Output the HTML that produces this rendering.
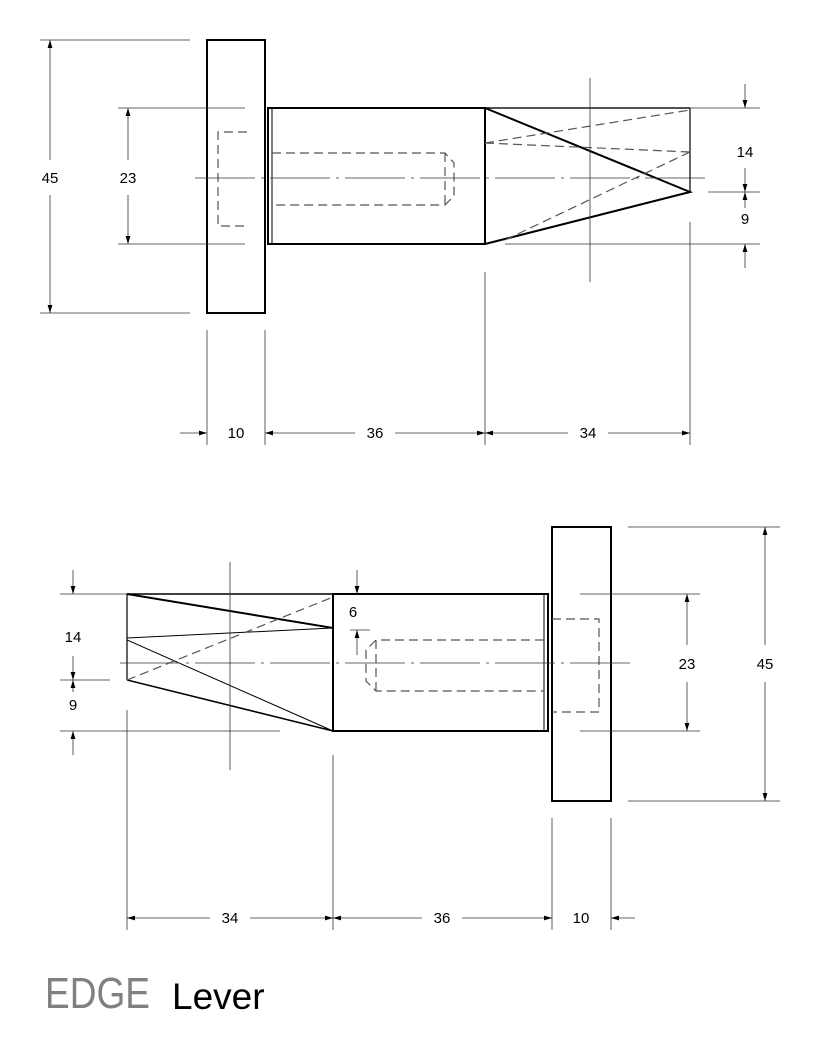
<!DOCTYPE html>
<html><head><style>body{margin:0;background:#fff}svg{display:block}</style></head>
<body>
<svg width="818" height="1037" viewBox="0 0 818 1037" xmlns="http://www.w3.org/2000/svg" font-family="Liberation Sans, sans-serif">
<defs>
<marker id="a" viewBox="0 0 10 10" refX="10" refY="5" markerWidth="8" markerHeight="8" orient="auto-start-reverse" markerUnits="userSpaceOnUse"><path d="M0,2 L10,5 L0,8z" fill="#000"/></marker>
</defs>
<g fill="none" stroke="#000">
<!-- TOP VIEW -->
<rect x="207" y="40" width="58" height="273" stroke-width="2"/>
<rect x="268" y="108" width="217" height="136" stroke-width="2"/>
<line x1="272" y1="108" x2="272" y2="244" stroke-width="1"/>
<line x1="485" y1="108" x2="690" y2="108" stroke-width="1.5"/>
<line x1="690" y1="108" x2="690" y2="192" stroke-width="1.2"/>
<path d="M485,108 L690,192 L485,244" stroke-width="2"/>
<g stroke="#555" stroke-dasharray="9,5" stroke-width="1.2">
<path d="M247,132 H218 V226 H247"/>
<path d="M272,153 H445 L454,163 V196 L445,205 H272"/>
<line x1="445" y1="153" x2="445" y2="205"/>
<line x1="485" y1="143" x2="690" y2="110"/>
<line x1="485" y1="143" x2="690" y2="152"/>
<line x1="505" y1="240" x2="690" y2="152"/>
</g>
<g stroke="#333" stroke-width="0.8">
<line x1="195" y1="178" x2="705" y2="178" stroke-dasharray="60,6,3,6"/>
<line x1="590" y1="78" x2="590" y2="282"/>
<line x1="40" y1="40" x2="190" y2="40"/>
<line x1="40" y1="313" x2="190" y2="313"/>
<line x1="118" y1="108" x2="245" y2="108"/>
<line x1="118" y1="244" x2="245" y2="244"/>
<line x1="490" y1="108" x2="760" y2="108"/>
<line x1="708" y1="192" x2="760" y2="192"/>
<line x1="505" y1="244" x2="760" y2="244"/>
<line x1="207" y1="330" x2="207" y2="445"/>
<line x1="265" y1="330" x2="265" y2="445"/>
<line x1="485" y1="272" x2="485" y2="445"/>
<line x1="690" y1="222" x2="690" y2="445"/>
<line x1="50" y1="40" x2="50" y2="160" marker-start="url(#a)"/>
<line x1="50" y1="195" x2="50" y2="313" marker-end="url(#a)"/>
<line x1="128" y1="108" x2="128" y2="160" marker-start="url(#a)"/>
<line x1="128" y1="195" x2="128" y2="244" marker-end="url(#a)"/>
<line x1="745" y1="84" x2="745" y2="108" marker-end="url(#a)"/>
<line x1="745" y1="168" x2="745" y2="192" marker-end="url(#a)"/>
<line x1="745" y1="192" x2="745" y2="208" marker-start="url(#a)"/>
<line x1="745" y1="268" x2="745" y2="244" marker-end="url(#a)"/>
<line x1="180" y1="433" x2="207" y2="433" marker-end="url(#a)"/>
<line x1="265" y1="433" x2="355" y2="433" marker-start="url(#a)"/>
<line x1="395" y1="433" x2="485" y2="433" marker-end="url(#a)"/>
<line x1="485" y1="433" x2="568" y2="433" marker-start="url(#a)"/>
<line x1="608" y1="433" x2="690" y2="433" marker-end="url(#a)"/>
</g>
<!-- BOTTOM VIEW -->
<rect x="552" y="527" width="59" height="274" stroke-width="2"/>
<rect x="333" y="594" width="215" height="137" stroke-width="2"/>
<line x1="544" y1="594" x2="544" y2="731" stroke-width="1"/>
<line x1="127" y1="594" x2="333" y2="594" stroke-width="1.5"/>
<line x1="127" y1="594" x2="127" y2="680" stroke-width="1.2"/>
<path d="M127,594 L333,628 V594" stroke-width="2"/>
<line x1="127" y1="638" x2="333" y2="628" stroke-width="1"/>
<line x1="127" y1="640" x2="333" y2="731" stroke-width="1"/>
<line x1="127" y1="680" x2="333" y2="731" stroke-width="1.5"/>
<g stroke="#555" stroke-dasharray="9,5" stroke-width="1.2">
<path d="M552,619 H599 V712 H552"/>
<path d="M544,640 H376 L366,650 V681 L376,691 H544"/>
<line x1="376" y1="640" x2="376" y2="691"/>
<line x1="127" y1="680" x2="333" y2="597"/>
</g>
<g stroke="#333" stroke-width="0.8">
<line x1="120" y1="663" x2="630" y2="663" stroke-dasharray="60,6,3,6"/>
<line x1="230" y1="562" x2="230" y2="770"/>
<line x1="628" y1="527" x2="780" y2="527"/>
<line x1="628" y1="801" x2="780" y2="801"/>
<line x1="580" y1="594" x2="700" y2="594"/>
<line x1="580" y1="731" x2="700" y2="731"/>
<line x1="60" y1="594" x2="127" y2="594"/>
<line x1="60" y1="680" x2="110" y2="680"/>
<line x1="60" y1="731" x2="280" y2="731"/>
<line x1="350" y1="630" x2="370" y2="630"/>
<line x1="127" y1="710" x2="127" y2="930"/>
<line x1="333" y1="755" x2="333" y2="930"/>
<line x1="552" y1="818" x2="552" y2="930"/>
<line x1="611" y1="818" x2="611" y2="930"/>
<line x1="765" y1="527" x2="765" y2="645" marker-start="url(#a)"/>
<line x1="765" y1="682" x2="765" y2="801" marker-end="url(#a)"/>
<line x1="687" y1="594" x2="687" y2="645" marker-start="url(#a)"/>
<line x1="687" y1="682" x2="687" y2="731" marker-end="url(#a)"/>
<line x1="73" y1="570" x2="73" y2="594" marker-end="url(#a)"/>
<line x1="73" y1="656" x2="73" y2="680" marker-end="url(#a)"/>
<line x1="73" y1="680" x2="73" y2="692" marker-start="url(#a)"/>
<line x1="73" y1="755" x2="73" y2="731" marker-end="url(#a)"/>
<line x1="357" y1="570" x2="357" y2="594" marker-end="url(#a)"/>
<line x1="357" y1="655" x2="357" y2="630" marker-end="url(#a)"/>
<line x1="127" y1="918" x2="210" y2="918" marker-start="url(#a)"/>
<line x1="250" y1="918" x2="333" y2="918" marker-end="url(#a)"/>
<line x1="333" y1="918" x2="422" y2="918" marker-start="url(#a)"/>
<line x1="462" y1="918" x2="552" y2="918" marker-end="url(#a)"/>
<line x1="635" y1="918" x2="611" y2="918" marker-end="url(#a)"/>
</g>
</g>
<g font-size="15" fill="#000" text-anchor="middle">
<text x="50" y="183">45</text>
<text x="128" y="183">23</text>
<text x="745" y="157">14</text>
<text x="745" y="224">9</text>
<text x="236" y="438">10</text>
<text x="375" y="438">36</text>
<text x="588" y="438">34</text>
<text x="765" y="669">45</text>
<text x="687" y="669">23</text>
<text x="73" y="642">14</text>
<text x="73" y="710">9</text>
<text x="353" y="617">6</text>
<text x="230" y="923">34</text>
<text x="442" y="923">36</text>
<text x="581" y="923">10</text>
</g>
<text x="45" y="1008" font-size="44" fill="#808080" textLength="105" lengthAdjust="spacingAndGlyphs">EDGE</text>
<text x="172" y="1009" font-size="37" fill="#000">Lever</text>
</svg>
</body></html>
